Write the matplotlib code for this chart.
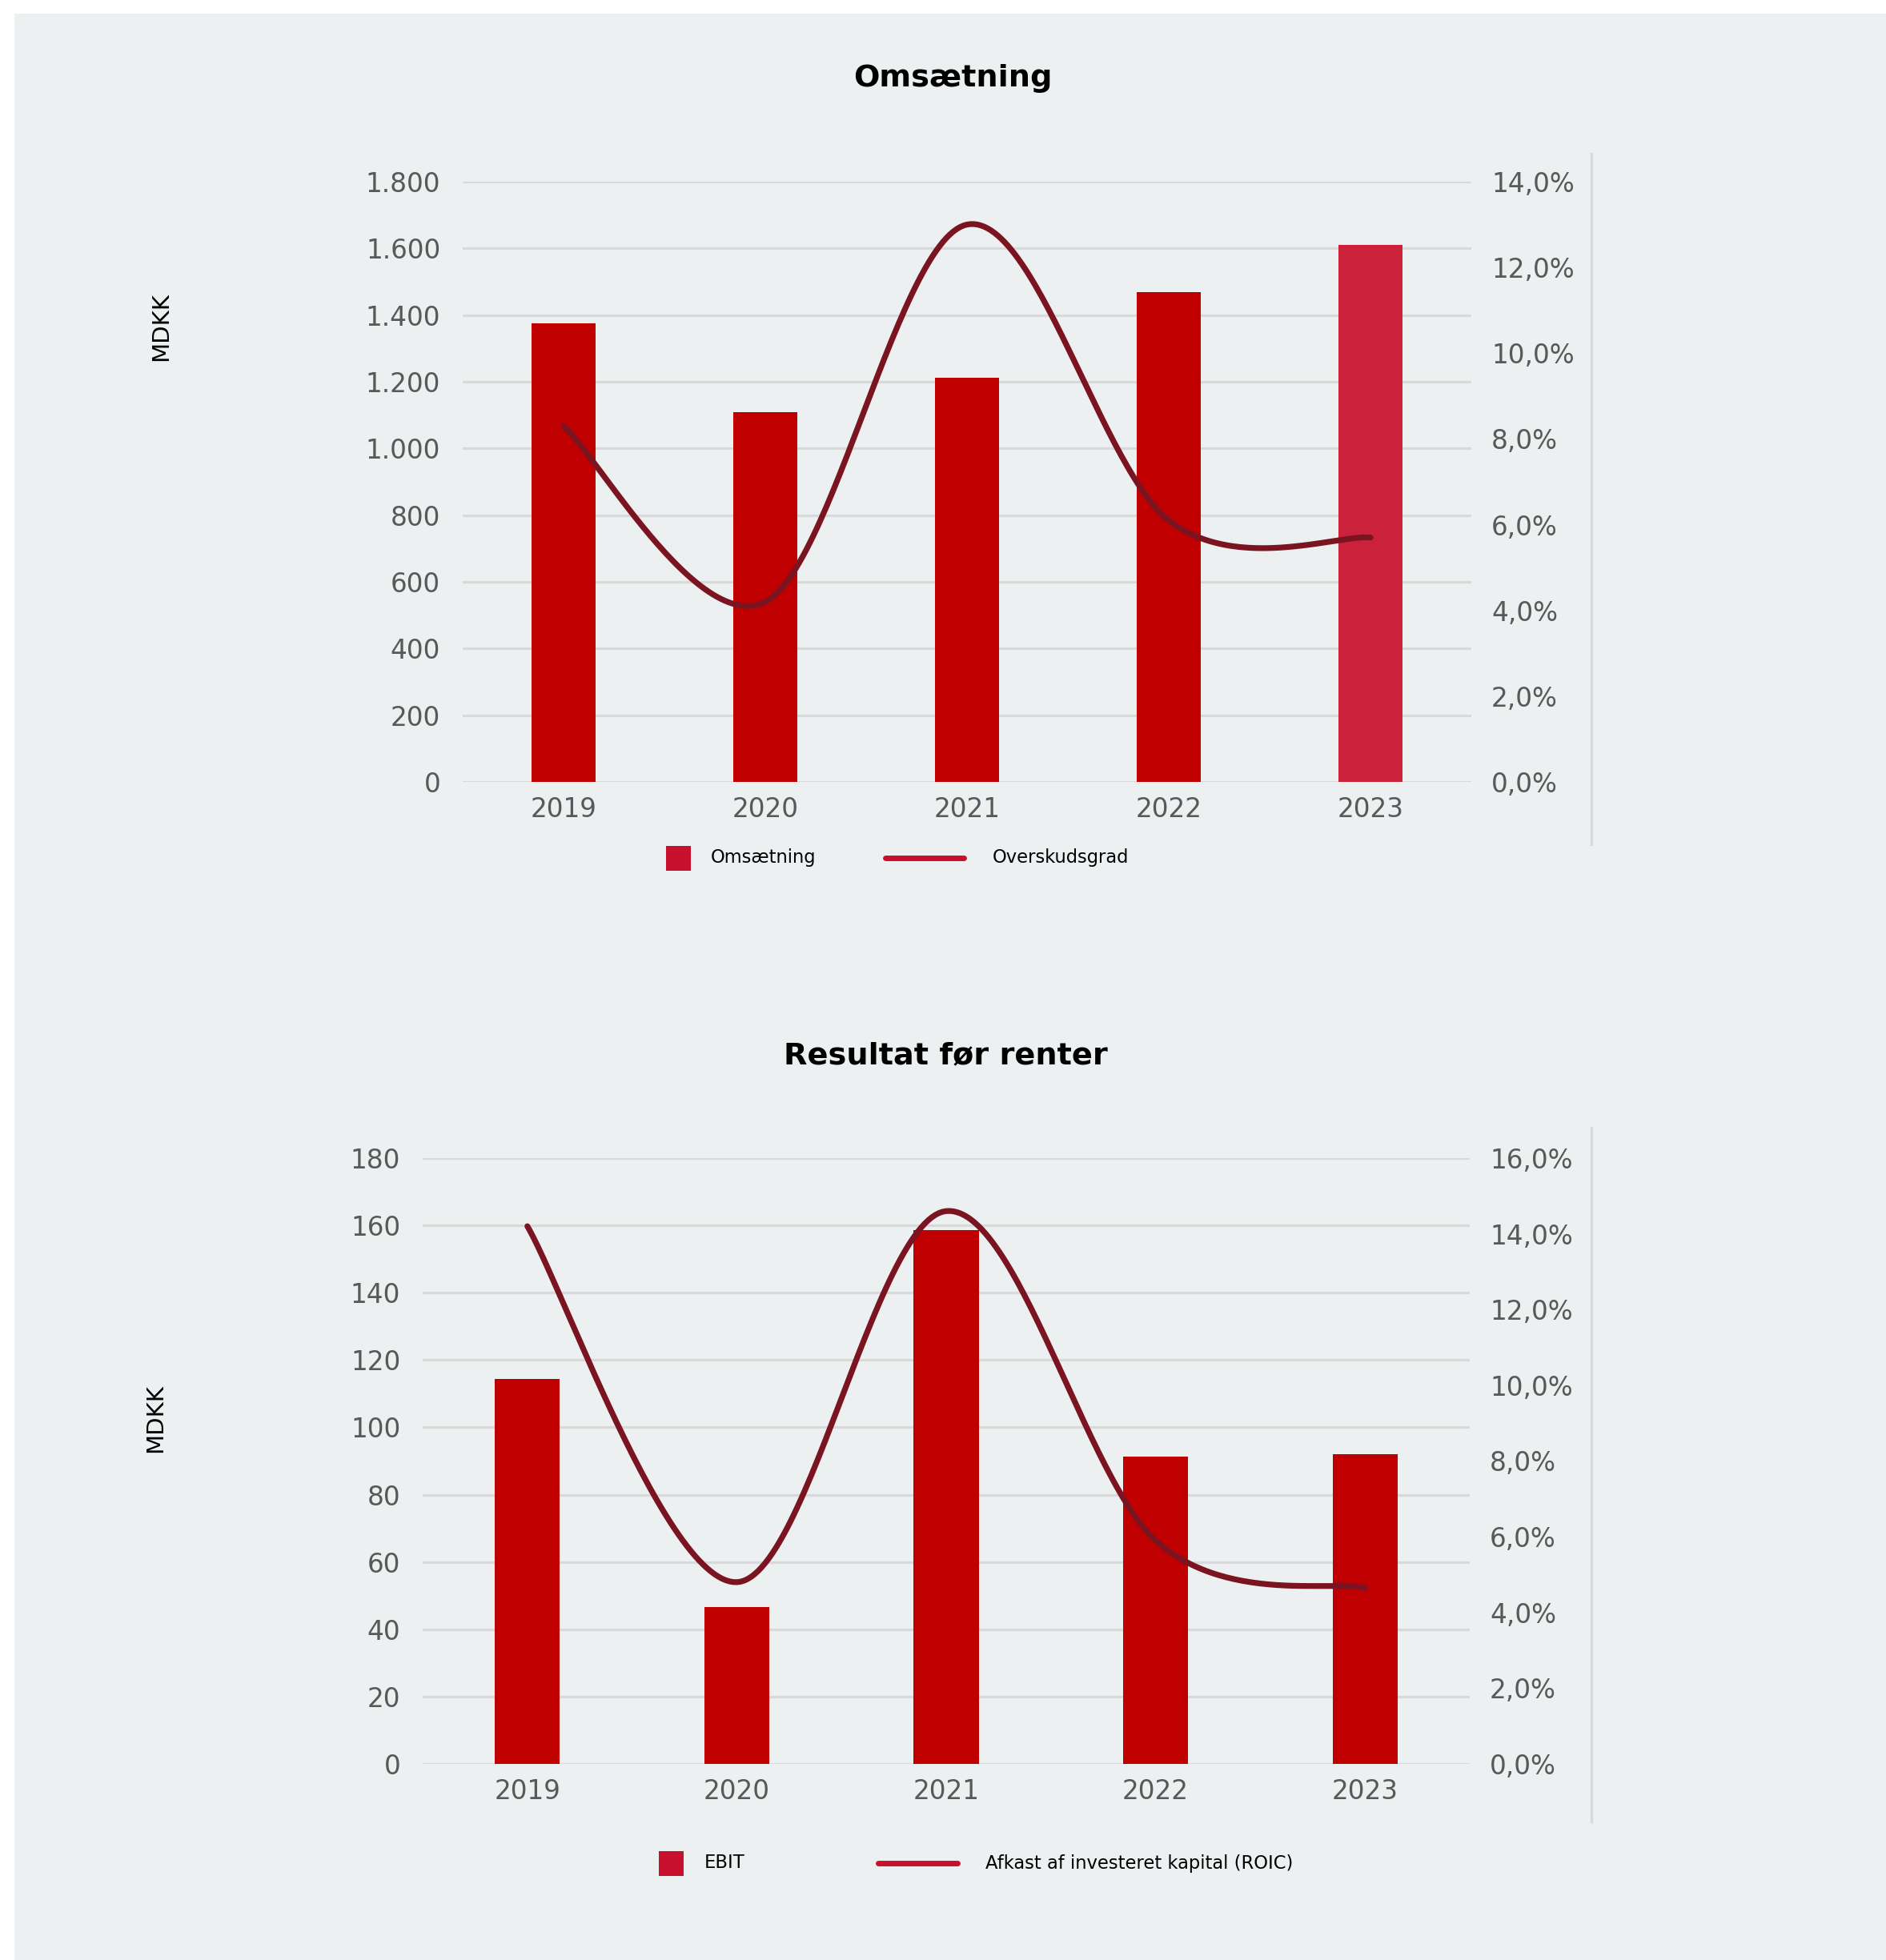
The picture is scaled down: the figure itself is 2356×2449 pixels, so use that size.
import numpy as np
import matplotlib
matplotlib.use("Agg")
from matplotlib import pyplot as plt
from matplotlib.lines import Line2D
from matplotlib.patches import Rectangle

# data
years = ["2019", "2020", "2021", "2022", "2023"]

omsaetning = [1375, 1110, 1212, 1468, 1610]
overskudsgrad = [8.3, 4.2, 13.0, 6.1, 5.7]

ebit = [114.3, 46.6, 158.5, 91.3, 92.1]
roic = [14.2, 4.8, 14.6, 5.9, 4.65]

left_ticks_1 = [0, 200, 400, 600, 800, 1000, 1200, 1400, 1600, 1800]
left_labels_1 = ["0", "200", "400", "600", "800", "1.000", "1.200", "1.400", "1.600", "1.800"]
right_ticks_1 = [0, 2, 4, 6, 8, 10, 12, 14]

left_ticks_2 = [0, 20, 40, 60, 80, 100, 120, 140, 160, 180]
left_labels_2 = [str(v) for v in left_ticks_2]
right_ticks_2 = [0, 2, 4, 6, 8, 10, 12, 14, 16]

W, H = 2356, 2449
BG = "#edf0f1"
BAR = "#c00000"
BAR_LAST = "#cc213b"
LINE = "#7b1421"
LEGEND_RED = "#c8102e"
GRID = "#d9d9d9"
TICK = "#595959"

plt.rcParams["font.family"] = ["DejaVu Sans"]


def fx(px):
    return px / W


def fy(py):
    return 1 - py / H


def smooth(xs, ys, n=60):
    # catmull-rom style bezier smoothing, same as a spreadsheet "smoothed line"
    xs = np.asarray(xs, float)
    ys = np.asarray(ys, float)
    px = np.concatenate([[xs[0]], xs, [xs[-1]]])
    py = np.concatenate([[ys[0]], ys, [ys[-1]]])
    out_x, out_y = [], []
    t = np.linspace(0, 1, n)
    for i in range(1, len(px) - 2):
        p0 = np.array([px[i], py[i]])
        p1 = np.array([px[i + 1], py[i + 1]])
        c1 = p0 + (p1 - np.array([px[i - 1], py[i - 1]])) / 6
        c2 = p1 - (np.array([px[i + 2], py[i + 2]]) - p0) / 6
        b = ((1 - t) ** 3)[:, None] * p0 + (3 * (1 - t) ** 2 * t)[:, None] * c1 \
            + (3 * (1 - t) * t ** 2)[:, None] * c2 + (t ** 3)[:, None] * p1
        out_x.extend(b[:, 0])
        out_y.extend(b[:, 1])
    return out_x, out_y


def pct(v):
    return f"{v:.1f}%".replace(".", ",")


def draw_chart(rect, bars, bar_colors, width, ticks_l, labels_l, line, ticks_r):
    ax = fig.add_axes(rect)
    ax.set_facecolor("none")
    x = np.arange(len(years))
    ax.bar(x, bars, width=width, color=bar_colors, zorder=2)
    ax.set_xlim(-0.5, len(years) - 0.5)
    ax.set_ylim(0, ticks_l[-1])
    ax.set_yticks(ticks_l)
    ax.set_yticklabels(labels_l)
    ax.set_xticks(x)
    ax.set_xticklabels(years)
    ax.yaxis.grid(True, color=GRID, lw=2.3, zorder=0)
    ax.set_axisbelow(True)
    for s in ax.spines.values():
        s.set_visible(False)
    ax.tick_params(axis="both", length=0, labelsize=23.5, colors=TICK)
    ax.tick_params(axis="y", pad=20)
    ax.tick_params(axis="x", pad=13)

    ax2 = ax.twinx()
    sx, sy = smooth(x, line)
    ax2.plot(sx, sy, color=LINE, lw=5.2, solid_capstyle="round", zorder=3)
    ax2.set_ylim(0, ticks_r[-1])
    ax2.set_yticks(ticks_r)
    ax2.set_yticklabels([pct(v) for v in ticks_r])
    for s in ax2.spines.values():
        s.set_visible(False)
    ax2.tick_params(axis="y", length=0, labelsize=23.5, colors=TICK, pad=18)
    return ax, ax2


def legend(sq_x, sq_y, txt1_x, line_x0, line_x1, txt2_x, label1, label2):
    fig.add_artist(Rectangle((fx(sq_x), fy(sq_y + 31)), fx(31), 31 / H,
                             facecolor=LEGEND_RED, edgecolor="none"))
    yc = sq_y + 15
    fig.text(fx(txt1_x), fy(yc), label1, fontsize=16.3, va="center", ha="left")
    fig.add_artist(Line2D([fx(line_x0), fx(line_x1)], [fy(yc), fy(yc)],
                          color=LEGEND_RED, lw=5, solid_capstyle="round"))
    fig.text(fx(txt2_x), fy(yc), label2, fontsize=16.3, va="center", ha="left")


fig = plt.figure(figsize=(W / 100, H / 100), dpi=100, facecolor=BG)
# white strips along the top and left edge
fig.add_artist(Rectangle((0, fy(17)), 1, 17 / H, facecolor="white", edgecolor="none"))
fig.add_artist(Rectangle((0, 0), fx(18), 1, facecolor="white", edgecolor="none"))

# chart 1: Omsætning
draw_chart([fx(578), fy(977), fx(1838 - 578), (977 - 227) / H],
           omsaetning, [BAR] * 4 + [BAR_LAST], 0.32,
           left_ticks_1, left_labels_1, overskudsgrad, right_ticks_1)
fig.text(fx(1190), fy(108), "Omsætning", fontsize=27.5, fontweight="bold",
         ha="center", va="baseline")
fig.text(fx(201), fy(408), "MDKK", fontsize=21, rotation=90, ha="center", va="center")
fig.add_artist(Line2D([fx(1988), fx(1988)], [fy(192), fy(1055)], color=GRID, lw=2.5))
legend(832, 1057, 888, 1106, 1204, 1240, "Omsætning", "Overskudsgrad")

# chart 2: Resultat før renter
draw_chart([fx(528), fy(2204), fx(1836 - 528), (2204 - 1447) / H],
           ebit, [BAR] * 5, 0.31,
           left_ticks_2, left_labels_2, roic, right_ticks_2)
fig.text(fx(1181), fy(1329), "Resultat før renter", fontsize=27.5, fontweight="bold",
         ha="center", va="baseline")
fig.text(fx(194), fy(1772), "MDKK", fontsize=21, rotation=90, ha="center", va="center")
fig.add_artist(Line2D([fx(1988), fx(1988)], [fy(1409), fy(2276)], color=GRID, lw=2.5))
legend(823, 2313, 880, 1097, 1196, 1231, "EBIT", "Afkast af investeret kapital (ROIC)")

fig.savefig("out.png", dpi=100, facecolor=fig.get_facecolor())
